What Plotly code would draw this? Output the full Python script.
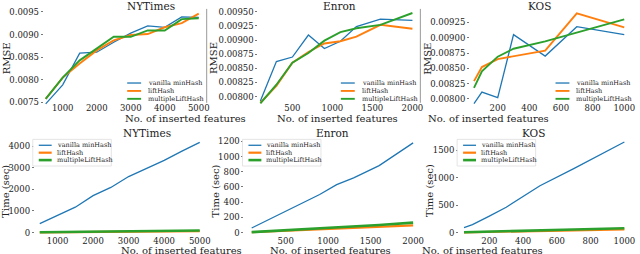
import plotly.graph_objects as go

W, H = 640, 254
FONT = "DejaVu Serif"

series_names = ["vanilla minHash", "liftHash", "multipleLiftHash"]
colors = ["#1f77b4", "#ff7f0e", "#2ca02c"]

# ---------------- data ----------------
nyt_x = [500, 1000, 1500, 2000, 2500, 3000, 3500, 4000, 4500, 5000]
nyt_rmse_vanilla = [0.00747, 0.00789, 0.00859, 0.00861, 0.00883, 0.00903, 0.00919, 0.00916, 0.00939, 0.00938]
nyt_rmse_lift = [0.00758, 0.00805, 0.00836, 0.00865, 0.00887, 0.00899, 0.00901, 0.00916, 0.00925, 0.00946]
nyt_rmse_multi = [0.00758, 0.00805, 0.00843, 0.00869, 0.00895, 0.00895, 0.00909, 0.00909, 0.00934, 0.00936]

enron_x = [100, 300, 500, 700, 900, 1100, 1300, 1600, 2000]
enron_rmse_vanilla = [0.00792, 0.00862, 0.00870, 0.00909, 0.00885, 0.00898, 0.00924, 0.00937, 0.00935]
enron_rmse_lift = [0.00789, 0.00819, 0.00860, 0.00879, 0.00894, 0.00898, 0.00906, 0.00927, 0.00920]
enron_rmse_multi = [0.00788, 0.00821, 0.00860, 0.00877, 0.00899, 0.00914, 0.00921, 0.00927, 0.00948]

kos_x = [50, 100, 200, 300, 500, 700, 1000]
kos_rmse_vanilla = [0.00792, 0.00811, 0.00802, 0.00905, 0.00870, 0.00918, 0.00905]
kos_rmse_lift = [0.00829, 0.00852, 0.00865, 0.00870, 0.00879, 0.00940, 0.00917]
kos_rmse_multi = [0.00818, 0.00845, 0.00869, 0.00882, 0.00894, 0.00908, 0.00930]

nyt_time_vanilla = [412, 792, 1174, 1708, 2090, 2594, 2961, 3343, 3770, 4182]
nyt_time_lift = [8, 12, 18, 24, 30, 37, 44, 52, 60, 68]
nyt_time_multi = [12, 20, 28, 36, 45, 53, 62, 72, 82, 92]

enron_time_vanilla = [60, 170, 290, 390, 500, 630, 720, 880, 1180]
enron_time_lift = [4, 14, 24, 34, 43, 52, 62, 75, 95]
enron_time_multi = [6, 18, 30, 42, 55, 68, 82, 100, 130]

kos_time_vanilla = [90, 144, 300, 462, 854, 1166, 1654]
kos_time_lift = [3, 5, 10, 15, 27, 38, 58]
kos_time_multi = [5, 8, 15, 22, 40, 55, 78]

x_title = "No. of inserted features"

# ---------------- panel layout (pixel boxes) ----------------
panels = [
    dict(title="NYTimes", x=nyt_x, ys=[nyt_rmse_vanilla, nyt_rmse_lift, nyt_rmse_multi],
         box=(44, 5, 208, 106), xr=[442, 5234], yr=[0.007428, 0.009631],
         xt=[1000, 2000, 3000, 4000, 5000], yt=[0.0075, 0.0080, 0.0085, 0.0090, 0.0095],
         yfmt=".4f", ytitle="RMSE", ytx=6, leg="lr", spine=True, widths=[1.3, 1.9, 1.9]),
    dict(title="Enron", x=enron_x, ys=[enron_rmse_vanilla, enron_rmse_lift, enron_rmse_multi],
         box=(260, 5, 423, 106), xr=[75, 2099], yr=[0.007837, 0.009605],
         xt=[500, 1000, 1500, 2000], yt=[0.008, 0.00825, 0.0085, 0.00875, 0.009, 0.00925, 0.0095],
         yfmt=".5f", ytitle="RMSE", ytx=215, leg="lr", spine=True, widths=[1.3, 1.9, 1.9]),
    dict(title="KOS", x=kos_x, ys=[kos_rmse_vanilla, kos_rmse_lift, kos_rmse_multi],
         box=(473, 5, 639, 106), xr=[25, 1068], yr=[0.007887, 0.00952],
         xt=[200, 400, 600, 800, 1000], yt=[0.008, 0.00825, 0.0085, 0.00875, 0.009, 0.00925],
         yfmt=".5f", ytitle="RMSE", ytx=430, leg="lr", spine=False, widths=[1.3, 1.9, 1.9]),
    dict(title="NYTimes", x=nyt_x, ys=[nyt_time_vanilla, nyt_time_lift, nyt_time_multi],
         box=(35, 138, 209, 239), xr=[360, 5224], yr=[-215, 4411],
         xt=[1000, 2000, 3000, 4000, 5000], yt=[0, 1000, 2000, 3000, 4000],
         yfmt="d", ytitle="Time (sec)", ytx=6, leg="ul", spine=False, widths=[1.3, 2.2, 2.6]),
    dict(title="Enron", x=enron_x, ys=[enron_time_vanilla, enron_time_lift, enron_time_multi],
         box=(246, 138, 423, 239), xr=[15, 2085], yr=[-61, 1252],
         xt=[500, 1000, 1500, 2000], yt=[0, 200, 400, 600, 800, 1000, 1200],
         yfmt="d", ytitle="Time (sec)", ytx=217, leg="ul", spine=False, widths=[1.3, 2.2, 2.6]),
    dict(title="KOS", x=kos_x, ys=[kos_time_vanilla, kos_time_lift, kos_time_multi],
         box=(462, 138, 639, 239), xr=[21, 1063], yr=[-85, 1738],
         xt=[200, 400, 600, 800, 1000], yt=[0, 500, 1000, 1500],
         yfmt="d", ytitle="Time (sec)", ytx=432, leg="ul", spine=False, widths=[1.3, 2.2, 2.6]),
]

fig = go.Figure()
layout = dict(width=W, height=H, margin=dict(l=0, r=0, t=0, b=0),
              paper_bgcolor="white", plot_bgcolor="white", showlegend=False,
              font=dict(family=FONT, color="#222", size=9))
shapes = []
annotations = []

def px(x):
    return x / W

def py(y):
    return 1 - y / H

for i, p in enumerate(panels):
    n = "" if i == 0 else str(i + 1)
    x0, y0, x1, y1 = p["box"]
    xa = dict(domain=[px(x0), px(x1)], range=p["xr"], anchor="y" + n,
              tickvals=p["xt"], showgrid=False, zeroline=False, showline=False,
              ticks="", ticklabelstandoff=-4 if i < 3 else -3,
              tickfont=dict(size=8.5, family=FONT, color="#222"))
    ya = dict(domain=[py(y1), py(y0)], range=p["yr"], anchor="x" + n,
              tickvals=p["yt"], tickformat=p["yfmt"], showgrid=False, zeroline=False,
              showline=False, ticks="outside", ticklen=2, tickcolor="#555", tickwidth=0.8,
              tickfont=dict(size=8.5, family=FONT, color="#222"))
    layout["xaxis" + n] = xa
    layout["yaxis" + n] = ya
    for k in range(3):
        fig.add_trace(go.Scatter(x=p["x"], y=p["ys"][k], mode="lines", name=series_names[k],
                                 line=dict(color=colors[k], width=p["widths"][k]),
                                 xaxis="x" + n, yaxis="y" + n))
    # panel title
    annotations.append(dict(text=p["title"], x=px((x0 + x1) / 2), y=py(5 if i < 3 else 134),
                            xref="paper", yref="paper", showarrow=False, yanchor="middle",
                            font=dict(size=10.5, family=FONT, color="#222")))
    # axis titles
    annotations.append(dict(text=x_title, x=px((x0 + x1) / 2 - 2), y=py(119 if i < 3 else 252.5),
                            xref="paper", yref="paper", showarrow=False, yanchor="middle",
                            font=dict(size=10, family=FONT, color="#222")))
    annotations.append(dict(text=p["ytitle"], x=px(p["ytx"]), y=py(58 if i < 3 else 192),
                            xref="paper", yref="paper", showarrow=False, textangle=-90,
                            xanchor="center", yanchor="middle",
                            font=dict(size=10, family=FONT, color="#222")))
    if p["spine"]:
        shapes.append(dict(type="line", xref="paper", yref="paper", x0=px(x1), x1=px(x1),
                           y0=py(y1 - 3), y1=py(y0 + 3), line=dict(color="#999", width=1)))
    # legend (drawn by hand to keep matplotlib-like compact size)
    if p["leg"] == "lr":
        hx0, hx1, tx = x1 - 80, x1 - 66, x1 - 61
        rows = [y1 - 23, y1 - 15, y1 - 7]
    else:
        hx0, hx1, tx = x0 + 4, x0 + 17, x0 + 20
        rows = [y0 + 8, y0 + 15.5, y0 + 23]
        shapes.append(dict(type="rect", xref="paper", yref="paper", x0=px(x0 - 2), x1=px(x0 + 77),
                           y0=py(y0 + 29), y1=py(y0 + 2), line=dict(color="#ddd", width=0.8),
                           fillcolor="rgba(255,255,255,0.85)", layer="above"))
    for k in range(3):
        shapes.append(dict(type="line", xref="paper", yref="paper", x0=px(hx0), x1=px(hx1),
                           y0=py(rows[k]), y1=py(rows[k]),
                           line=dict(color=colors[k], width=p["widths"][k]), layer="above"))
        annotations.append(dict(text=series_names[k], x=px(tx), y=py(rows[k]), xref="paper",
                                yref="paper", xanchor="left", yanchor="middle", showarrow=False,
                                font=dict(size=6.5, family=FONT, color="#222")))

layout["shapes"] = shapes
layout["annotations"] = annotations
fig.update_layout(**layout)
fig.write_html("out.html", config={"displayModeBar": False, "staticPlot": True},
               post_script="document.body.style.margin='0';document.body.style.overflow='hidden';")
